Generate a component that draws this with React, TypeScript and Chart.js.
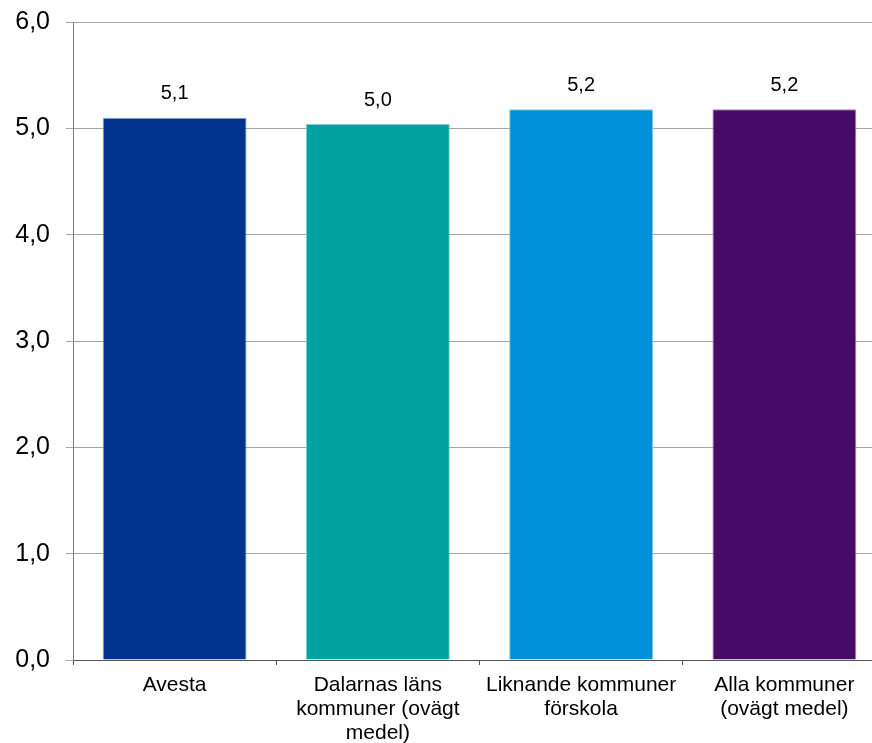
import React, { useEffect, useRef } from "react";
import { Chart, registerables } from "chart.js";

Chart.register(...registerables);

const categories: string[][] = [
  ["Avesta"],
  ["Dalarnas läns", "kommuner (ovägt", "medel)"],
  ["Liknande kommuner", "förskola"],
  ["Alla kommuner", "(ovägt medel)"],
];
const values: number[] = [5.1, 5.04, 5.18, 5.18];
const barColors: string[] = ["#00338D", "#00A3A1", "#0091DA", "#470A68"];
const barBorders: string[] = ["#8fa6cf", "#7fd0cf", "#7fc6ec", "#a385b3"];
const yTickValues: number[] = [0, 1, 2, 3, 4, 5, 6];

const fmt = (v: number) => v.toFixed(1).replace(".", ",");

const FONT = "'Liberation Sans', Arial, sans-serif";

const dataLabelPlugin = {
  id: "dataLabels",
  afterDatasetsDraw(chart: any) {
    const ctx = chart.ctx;
    const meta = chart.getDatasetMeta(0);
    ctx.save();
    ctx.font = `20px ${FONT}`;
    ctx.fillStyle = "#000";
    ctx.textAlign = "center";
    ctx.textBaseline = "middle";
    meta.data.forEach((bar: any, i: number) => {
      ctx.fillText(fmt(values[i]), bar.x, bar.y - 24);
    });
    ctx.restore();
  },
};

export default function App() {
  const ref = useRef<HTMLCanvasElement | null>(null);
  useEffect(() => {
    if (!ref.current) return;
    const chart = new Chart(ref.current, {
      type: "bar",
      data: {
        labels: categories,
        datasets: [
          {
            data: values,
            backgroundColor: barColors,
            borderColor: barBorders,
            borderWidth: 1,
            barPercentage: 0.708,
            categoryPercentage: 1,
          },
        ],
      },
      options: {
        animation: false,
        responsive: false,
        maintainAspectRatio: false,
        layout: { padding: { top: 22, right: 0, left: 0, bottom: 0 } },
        plugins: {
          legend: { display: false },
          tooltip: { enabled: false },
        },
        scales: {
          x: {
            offset: true,
            grid: {
              offset: true,
              drawOnChartArea: false,
              drawTicks: true,
              tickLength: 5,
              color: "#555",
            },
            border: { color: "#555", width: 1 },
            ticks: {
              color: "#000",
              font: { family: FONT, size: 21, lineHeight: 1.14 },
              padding: 8,
              maxRotation: 0,
              autoSkip: false,
            },
            afterFit: (scale: any) => {
              scale.height = 83;
              scale.paddingLeft = 0;
              scale.paddingRight = 0;
            },
          },
          y: {
            min: 0,
            max: 6,
            afterBuildTicks: (scale: any) => {
              scale.ticks = yTickValues.map((v) => ({ value: v }));
            },
            grid: {
              color: "#a6a6a6",
              drawTicks: true,
              tickLength: 7,
            },
            border: { color: "#808080", width: 1 },
            ticks: {
              color: "#000",
              font: { family: FONT, size: 25 },
              padding: 16,
              callback: (v: any) => fmt(Number(v)),
            },
            afterFit: (scale: any) => {
              scale.width = 73;
              scale.paddingTop = 0;
              scale.paddingBottom = 0;
            },
          },
        },
      },
      plugins: [dataLabelPlugin],
    });
    return () => chart.destroy();
  }, []);
  return (
    <div
      style={{
        position: "fixed",
        left: 0,
        top: 0,
        width: 872,
        height: 743,
        overflow: "hidden",
        background: "#fff",
      }}
    >
      <canvas ref={ref} width={886} height={743} style={{ display: "block" }} />
    </div>
  );
}
